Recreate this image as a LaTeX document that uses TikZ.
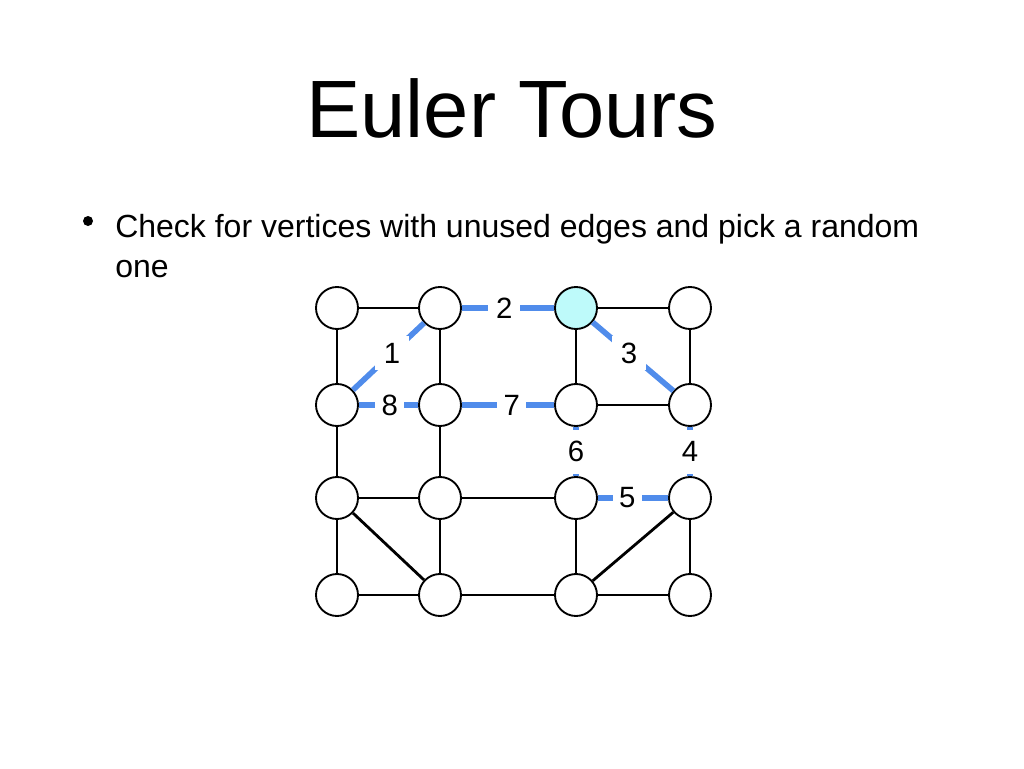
\documentclass[tikz,border=0pt]{standalone}
\usepackage{fontspec}
\setmainfont{Liberation Sans}
\definecolor{eblue}{RGB}{80,140,235}
\definecolor{pick}{RGB}{190,250,250}
\begin{document}
\begin{tikzpicture}[x=0.75pt,y=-0.75pt,
  vtx/.style={circle,draw=black,line width=1.4pt,fill=white,minimum size=31.5pt,inner sep=0pt},
  blk/.style={draw=black,line width=2.1pt},
  used/.style={draw=eblue,line width=4.2pt},
  lab/.style={fill=white,inner sep=0pt,font=\fontsize{22}{22}\selectfont},
]
\useasboundingbox (0,0) rectangle (1024,768);
\node[font=\fontsize{61}{61}\selectfont] (title) at (512,108) {Euler Tours};
\node[circle,fill=black,inner sep=0pt,minimum size=7.5pt] (bul) at (88,221) {};
\node[anchor=base west,align=left,inner sep=0pt,font=\fontsize{24}{30}\selectfont] (txt) at (115,277) {Check for vertices with unused edges and pick a random\\one};
% vertices
\node[vtx] (a1) at (337,308) {};
\node[vtx] (b1) at (440,308) {};
\node[vtx,fill=pick] (c1) at (576,308) {};
\node[vtx] (d1) at (690,308) {};
\node[vtx] (a2) at (337,405) {};
\node[vtx] (b2) at (440,405) {};
\node[vtx] (c2) at (576,405) {};
\node[vtx] (d2) at (690,405) {};
\node[vtx] (a3) at (337,498) {};
\node[vtx] (b3) at (440,498) {};
\node[vtx] (c3) at (576,498) {};
\node[vtx] (d3) at (690,498) {};
\node[vtx] (a4) at (337,595) {};
\node[vtx] (b4) at (440,595) {};
\node[vtx] (c4) at (576,595) {};
\node[vtx] (d4) at (690,595) {};
% unused edges
\draw[blk] (a1) -- (b1);
\draw[blk] (c1) -- (d1);
\draw[blk] (a1) -- (a2);
\draw[blk] (b1) -- (b2);
\draw[blk] (c1) -- (c2);
\draw[blk] (d1) -- (d2);
\draw[blk] (c2) -- (d2);
\draw[blk] (a2) -- (a3);
\draw[blk] (b2) -- (b3);
\draw[blk] (a3) -- (b3);
\draw[blk] (b3) -- (c3);
\draw[blk] (a3) -- (a4);
\draw[blk] (a3) -- (b4);
\draw[blk] (b3) -- (b4);
\draw[blk] (c3) -- (c4);
\draw[blk] (d3) -- (c4);
\draw[blk] (d3) -- (d4);
\draw[blk] (a4) -- (b4);
\draw[blk] (b4) -- (c4);
\draw[blk] (c4) -- (d4);
% used edges
\draw[used] (a2) -- node[lab,pos=0.55,minimum width=25pt,minimum height=25pt] (l1) {1} (b1);
\draw[used] (b1) -- node[lab,pos=0.46,minimum width=24pt,minimum height=24pt] (l2) {2} (c1);
\draw[used] (c1) -- node[lab,pos=0.45,minimum width=25pt,minimum height=25pt] (l3) {3} (d2);
\draw[used] (d2) -- node[lab,pos=0.5,minimum width=22pt,minimum height=33pt] (l4) {4} (d3);
\draw[used] (d3) -- node[lab,pos=0.58,minimum width=22pt,minimum height=24pt] (l5) {5} (c3);
\draw[used] (c3) -- node[lab,pos=0.5,minimum width=22pt,minimum height=33pt] (l6) {6} (c2);
\draw[used] (c2) -- node[lab,pos=0.46,minimum width=22pt,minimum height=24pt] (l7) {7} (b2);
\draw[used] (b2) -- node[lab,pos=0.48,minimum width=22pt,minimum height=24pt] (l8) {8} (a2);
\end{tikzpicture}
\end{document}
